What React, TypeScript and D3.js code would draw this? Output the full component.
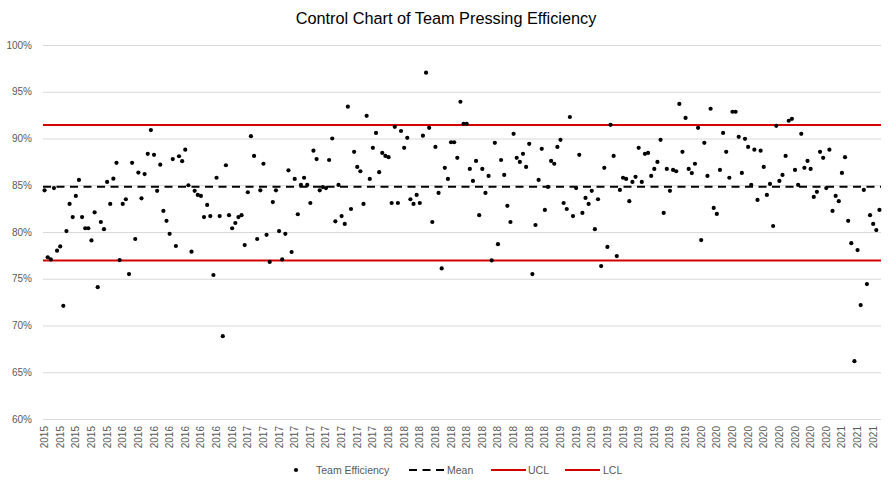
import { useEffect, useRef } from 'react'
import * as d3 from 'd3'

// team pressing efficiency per match, in %
const efficiency = [
  84.46, 77.3, 77.07, 84.7, 78.0, 78.46, 72.1, 80.1, 83.0, 81.6, 83.86, 85.57, 81.6, 80.4, 80.4, 79.1,
  82.1, 74.1, 81.07, 80.3, 85.36, 83.0, 85.7, 87.4, 77.0, 83.0, 83.5, 75.5, 87.4, 79.25, 86.36, 83.6,
  86.2, 88.36, 90.9, 88.25, 84.4, 87.2, 82.25, 81.2, 79.8, 87.8, 78.5, 88.1,
  87.57, 88.8, 85.0, 77.9, 84.4, 83.96, 83.86, 81.6, 82.9, 81.7, 75.4, 85.8, 81.7, 68.86, 87.14, 81.8,
  80.4, 80.96, 81.6, 81.8, 78.6, 84.25, 90.25, 88.14, 79.25, 84.46, 87.3, 79.7, 76.8, 83.2, 84.46, 80.1,
  77.07, 79.8, 86.6, 77.86, 85.68, 81.9, 85.04, 85.8, 85.04, 83.1, 88.7, 87.8,
  84.46, 84.8, 84.7, 87.7, 90.0, 81.14, 85.04, 81.7, 80.86, 93.4, 82.46, 88.57, 86.96, 86.5, 83.0, 92.43,
  85.68, 89.0, 90.6, 86.4, 88.46, 88.14, 88.0, 83.1, 91.25, 83.1, 90.8, 89.0, 90.07, 83.5, 83.0, 83.96,
  83.1, 90.3, 97.04, 91.14, 81.07, 89.1, 84.18, 76.1, 86.86, 85.68, 89.6, 89.6,
  87.93, 93.93, 91.57, 91.57, 86.75, 85.46, 87.6, 81.8, 86.75, 84.18, 86.0, 76.96, 89.54, 78.7, 87.7, 86.1,
  82.8, 81.07, 90.5, 87.93, 87.5, 88.36, 86.96, 89.43, 75.5, 80.75, 85.57, 88.9, 82.36, 84.82, 87.6, 87.3,
  89.1, 89.86, 83.1, 82.46, 92.3, 81.7, 84.7, 88.25, 82.04, 83.64, 83.0, 84.4,
  80.3, 83.5, 76.36, 86.86, 78.4, 91.46, 88.14, 77.43, 84.5, 85.8, 85.68, 83.3, 85.36, 85.9, 89.0, 85.36,
  88.36, 88.46, 86.0, 86.75, 87.5, 89.86, 82.04, 86.75, 84.4, 86.64, 86.5, 93.7, 88.57, 92.2, 86.75, 86.3,
  87.3, 91.14, 79.14, 89.54, 86.0, 93.18, 82.57, 81.93, 86.64, 90.6, 88.57, 85.8,
  92.86, 92.86, 90.18, 86.32, 89.96, 89.1, 85.04, 88.8, 83.43, 88.7, 86.96, 83.96, 85.14, 80.64, 91.36, 85.46,
  86.1, 88.14, 91.9, 92.1, 86.64, 85.04, 90.5, 86.86, 87.6, 86.75, 83.75, 84.3, 88.57, 87.93, 84.7, 88.8,
  82.25, 83.86, 83.3, 86.32, 88.0, 81.2, 78.8, 66.18, 78.07, 72.18, 84.5, 74.43, 81.8, 80.86, 80.21, 82.36,
]

// year shown under every 5th match
const tickYears = [
  '2015', '2015', '2015', '2015', '2015',
  '2016', '2016', '2016', '2016', '2016', '2016', '2016', '2016',
  '2017', '2017', '2017', '2017', '2017', '2017', '2017', '2017', '2017',
  '2018', '2018', '2018', '2018', '2018', '2018', '2018', '2018', '2018', '2018', '2018',
  '2019', '2019', '2019', '2019', '2019', '2019', '2019', '2019', '2019',
  '2020', '2020', '2020', '2020', '2020', '2020', '2020', '2020', '2020',
  '2021', '2021', '2021',
]
const tickEvery = 5

const yTicks = [60, 65, 70, 75, 80, 85, 90, 95, 100]

const mean = 84.85
const ucl = 91.45
const lcl = 76.95

const font = "'Liberation Sans', Arial, sans-serif"
const red = '#d40000'

export default () => {
  const rootRef = useRef<SVGSVGElement>(null)

  useEffect(() => {
    const width = 893,
      height = 485
    const margin = { top: 45, right: 12, bottom: 66, left: 43 }

    const svg = d3.select(rootRef.current).attr('width', width).attr('height', height)
    svg.selectAll('*').remove()

    const x = d3
      .scaleBand<number>()
      .domain(d3.range(efficiency.length))
      .range([margin.left, width - margin.right])
    const y = d3
      .scaleLinear()
      .domain([60, 100])
      .range([height - margin.bottom, margin.top])
    const cx = (i: number) => (x(i) as number) + x.bandwidth() / 2

    // title
    svg
      .append('text')
      .attr('x', 446)
      .attr('y', 24)
      .attr('text-anchor', 'middle')
      .attr('font-family', font)
      .attr('font-size', 16.3)
      .attr('fill', '#000')
      .text('Control Chart of Team Pressing Efficiency')

    // y axis + grid
    const yAxis = svg
      .append('g')
      .attr('transform', `translate(${margin.left},0)`)
      .call(
        d3
          .axisLeft(y)
          .tickValues(yTicks)
          .tickSize(-(width - margin.left - margin.right))
          .tickPadding(11)
          .tickFormat((d) => d + '%')
      )
    yAxis.select('.domain').remove()
    yAxis.selectAll('.tick line').attr('stroke', '#d9d9d9')
    yAxis
      .selectAll('.tick text')
      .attr('font-family', font)
      .attr('font-size', 10)
      .attr('fill', '#595959')

    // x axis labels
    const xAxis = svg
      .append('g')
      .attr('transform', `translate(0,${height - margin.bottom})`)
      .call(
        d3
          .axisBottom(x)
          .tickValues(d3.range(0, efficiency.length, tickEvery))
          .tickSize(0)
          .tickFormat((_, k) => tickYears[k])
      )
    xAxis.select('.domain').remove()
    xAxis
      .selectAll('.tick text')
      .attr('font-family', font)
      .attr('font-size', 10)
      .attr('fill', '#595959')
      .attr('text-anchor', 'end')
      .attr('transform', 'rotate(-90)')
      .attr('x', -7)
      .attr('y', 0)
      .attr('dy', '0.35em')

    // control lines
    const lines = [
      { v: ucl, color: red, dash: null },
      { v: lcl, color: red, dash: null },
      { v: mean, color: '#000', dash: '8,5.5' },
    ]
    svg
      .append('g')
      .selectAll('line')
      .data(lines)
      .join('line')
      .attr('x1', margin.left)
      .attr('x2', width - margin.right)
      .attr('y1', (d) => y(d.v))
      .attr('y2', (d) => y(d.v))
      .attr('stroke', (d) => d.color)
      .attr('stroke-width', 2)
      .attr('stroke-dasharray', (d) => d.dash)

    // points
    svg
      .append('g')
      .selectAll('circle')
      .data(efficiency)
      .join('circle')
      .attr('cx', (_, i) => cx(i))
      .attr('cy', (d) => y(d))
      .attr('r', 2.1)
      .attr('fill', '#000')

    // legend
    const lg = svg.append('g').attr('font-family', font).attr('font-size', 10.5).attr('fill', '#595959')
    const ly = 470
    lg.append('circle').attr('cx', 296).attr('cy', ly).attr('r', 2.1).attr('fill', '#000')
    lg.append('text').attr('x', 316).attr('y', ly).attr('dy', '0.35em').text('Team Efficiency')
    lg.append('line')
      .attr('x1', 409).attr('x2', 444).attr('y1', ly).attr('y2', ly)
      .attr('stroke', '#000').attr('stroke-width', 2).attr('stroke-dasharray', '8,5.5')
    lg.append('text').attr('x', 447).attr('y', ly).attr('dy', '0.35em').text('Mean')
    lg.append('line')
      .attr('x1', 491).attr('x2', 526).attr('y1', ly).attr('y2', ly)
      .attr('stroke', red).attr('stroke-width', 2)
    lg.append('text').attr('x', 528).attr('y', ly).attr('dy', '0.35em').text('UCL')
    lg.append('line')
      .attr('x1', 565).attr('x2', 600).attr('y1', ly).attr('y2', ly)
      .attr('stroke', red).attr('stroke-width', 2)
    lg.append('text').attr('x', 603).attr('y', ly).attr('dy', '0.35em').text('LCL')
  }, [])

  return <svg ref={rootRef} style={{ position: 'absolute', left: 0, top: 0, background: '#fff' }}></svg>
}
